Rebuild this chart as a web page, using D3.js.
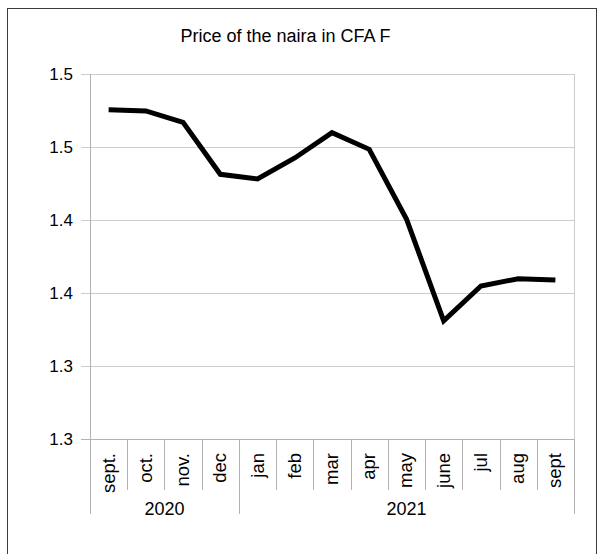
<!DOCTYPE html>
<html>
<head>
<meta charset="utf-8">
<script src="https://cdn.jsdelivr.net/npm/d3@7"></script>
<style>
  html, body { margin: 0; padding: 0; background: #fff; }
  svg { display: block; font-family: "Liberation Sans", Arial, sans-serif; }
</style>
</head>
<body>
<svg id="chart" width="598" height="554"></svg>
<script>
const title = "Price of the naira in CFA F";
const months = ["sept.", "oct.", "nov.", "dec", "jan", "feb", "mar", "apr", "may", "june", "jul", "aug", "sept"];
const years = ["2020", "2021"];
const yearSpans = [4, 9];
const values = [1.5255, 1.5247, 1.5169, 1.4813, 1.4781, 1.4925, 1.5098, 1.4984, 1.4507, 1.3810, 1.4048, 1.4098, 1.4089];
const yTicks = [1.30, 1.35, 1.40, 1.45, 1.50, 1.55];
const yTickLabels = ["1.3", "1.3", "1.4", "1.4", "1.5", "1.5"];

const svg = d3.select("#chart");
const plot = { left: 90, right: 574, top: 74, bottom: 439 };

// outer frame
svg.append("rect")
  .attr("x", 7.5).attr("y", 8.5)
  .attr("width", 589).attr("height", 570)
  .attr("fill", "none").attr("stroke", "#3c3c3c").attr("stroke-width", 1);

const x = d3.scaleBand().domain(months.map((d, i) => i)).range([plot.left, plot.right]).padding(0);
const y = d3.scaleLinear().domain([1.30, 1.55]).range([plot.bottom, plot.top]);

// gridlines
svg.append("g").selectAll("line").data(yTicks).join("line")
  .attr("x1", plot.left - 9).attr("x2", plot.right)
  .attr("y1", d => Math.round(y(d)) + 0.5).attr("y2", d => Math.round(y(d)) + 0.5)
  .attr("stroke", (d, i) => i === 0 ? "#b3b3b3" : "#cccccc").attr("stroke-width", 1);

// y labels
svg.append("g").selectAll("text").data(yTicks).join("text")
  .attr("x", 73).attr("y", d => y(d) + 6)
  .attr("text-anchor", "end")
  .attr("font-size", 17).attr("fill", "#000")
  .text((d, i) => yTickLabels[i]);

// left axis & right border
svg.append("line").attr("x1", plot.left + 0.5).attr("x2", plot.left + 0.5)
  .attr("y1", plot.top).attr("y2", plot.bottom).attr("stroke", "#b3b3b3");
svg.append("line").attr("x1", plot.right + 0.5).attr("x2", plot.right + 0.5)
  .attr("y1", plot.top).attr("y2", plot.bottom).attr("stroke", "#cccccc");

// category dividers
const groupStarts = [0];
yearSpans.forEach((s, i) => groupStarts.push(groupStarts[i] + s));
const bounds = d3.range(months.length + 1);
svg.append("g").selectAll("line").data(bounds).join("line")
  .attr("x1", k => Math.round(plot.left + k * x.step()) + 0.5)
  .attr("x2", k => Math.round(plot.left + k * x.step()) + 0.5)
  .attr("y1", plot.bottom)
  .attr("y2", k => groupStarts.includes(k) ? 514 : 490)
  .attr("stroke", "#b3b3b3");

// month labels
svg.append("g").selectAll("text").data(months).join("text")
  .attr("transform", (d, i) => `translate(${x(i) + x.bandwidth() / 2 + 6},453) rotate(-90)`)
  .attr("text-anchor", "end")
  .attr("font-size", 18.5).attr("fill", "#000")
  .text(d => d);

// year labels
svg.append("g").selectAll("text").data(years).join("text")
  .attr("x", (d, i) => plot.left + (groupStarts[i] + yearSpans[i] / 2) * x.step())
  .attr("y", 515)
  .attr("text-anchor", "middle")
  .attr("font-size", 18).attr("fill", "#000")
  .text(d => d);

// line
const line = d3.line().x((d, i) => x(i) + x.bandwidth() / 2).y(d => y(d));
svg.append("path").datum(values)
  .attr("d", line)
  .attr("fill", "none").attr("stroke", "#000").attr("stroke-width", 5)
  .attr("stroke-linejoin", "miter");

// title
svg.append("text")
  .attr("x", 285.5).attr("y", 42)
  .attr("text-anchor", "middle")
  .attr("font-size", 18).attr("fill", "#000")
  .text(title);
</script>
</body>
</html>
